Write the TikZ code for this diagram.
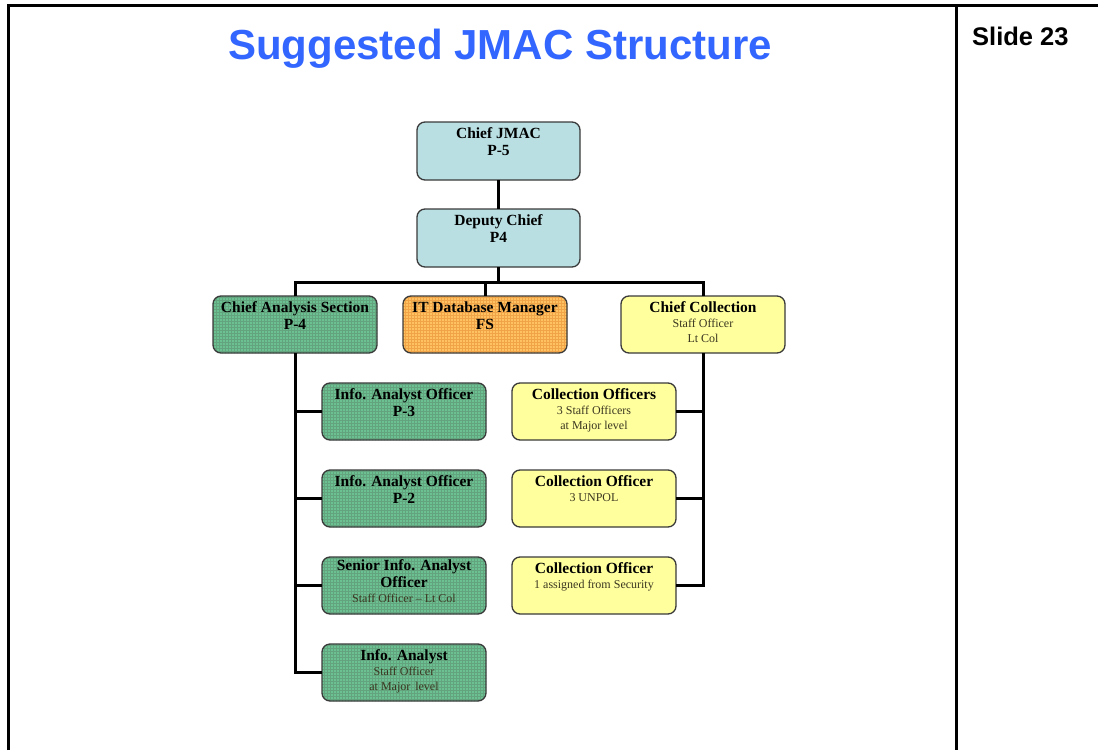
\documentclass[tikz,border=0pt]{standalone}
\usepackage{fontspec}
\setmainfont{Liberation Serif}
\newfontfamily\headfont{Liberation Sans}
\usetikzlibrary{patterns}
\definecolor{titleblue}{HTML}{3366FF}
\definecolor{chiefblue}{HTML}{B9DFE2}
\definecolor{anagreen}{HTML}{6BC192}
\definecolor{anagrid}{HTML}{2F8452}
\definecolor{itorange}{HTML}{FFC263}
\definecolor{itgrid}{HTML}{EE9326}
\definecolor{colyellow}{HTML}{FFFF9E}
\definecolor{boxedge}{HTML}{3A3A3A}
\definecolor{subtext}{HTML}{3A3620}
\newcommand{\boxtext}[2]{\parbox[c][#1pt][t]{162pt}{\centering\vspace*{6pt}#2}}
\newcommand{\mainln}[1]{{\fontsize{15.5}{17}\selectfont\bfseries #1\par}}
\newcommand{\subln}[1]{{\fontsize{12}{15}\selectfont\color{subtext}#1\par}}
\tikzset{
  x=1pt, y=-1pt,
  unitbox/.style={draw=boxedge, line width=1.3pt, rounded corners=8pt,
    minimum width=164pt, minimum height=57pt, inner sep=0pt, outer sep=0pt},
  chiefbox/.style={unitbox, fill=chiefblue, minimum width=163pt, minimum height=58pt},
  greenbox/.style={unitbox, preaction={fill=anagreen}, pattern=grid, pattern color=anagrid!75},
  orangebox/.style={unitbox, preaction={fill=itorange}, pattern=grid, pattern color=itgrid!85},
  yellowbox/.style={unitbox, fill=colyellow},
  link/.style={draw=black, line width=3pt},
  frameline/.style={draw=black, line width=3pt}
}
\begin{document}
\begin{tikzpicture}
\useasboundingbox (0,0) rectangle (1098,750);

% page frame
\draw[frameline] (8,750) -- (8,5) -- (1098,5);
\draw[frameline] (956,5) -- (956,750);

% headings
\node[anchor=base, text=titleblue, font=\headfont\bfseries\fontsize{42}{42}\selectfont, inner sep=0pt] (title) at (500,59) {Suggested JMAC Structure};
\node[anchor=base west, font=\headfont\bfseries\fontsize{25.5}{25.5}\selectfont, inner sep=0pt] (slide) at (972,45) {Slide 23};

% command level
\node[chiefbox] (cjmac) at (498.5,151) {\boxtext{58}{\mainln{Chief JMAC}\mainln{P-5}}};
\node[chiefbox] (deputy) at (498.5,238) {\boxtext{58}{\mainln{Deputy Chief}\mainln{P4}}};

% section heads
\node[greenbox] (cas) at (295,324.5) {\boxtext{57}{\mainln{Chief Analysis Section}\mainln{P-4}}};
\node[orangebox] (itdb) at (485,324.5) {\boxtext{57}{\mainln{IT Database Manager}\mainln{FS}}};
\node[yellowbox] (ccol) at (703,324.5) {\boxtext{57}{\mainln{Chief Collection}\subln{Staff Officer}\subln{Lt Col}}};

% analysis section
\node[greenbox] (ia1) at (404,411.5) {\boxtext{57}{\mainln{Info. Analyst Officer}\mainln{P-3}}};
\node[greenbox] (ia2) at (404,498.5) {\boxtext{57}{\mainln{Info. Analyst Officer}\mainln{P-2}}};
\node[greenbox] (ia3) at (404,585.5) {\boxtext{57}{\vspace*{-3pt}\mainln{Senior Info. Analyst}\mainln{Officer}\subln{Staff Officer -- Lt Col}}};
\node[greenbox] (ia4) at (404,672.5) {\boxtext{57}{\mainln{Info. Analyst}\subln{Staff Officer}\subln{at Major\, level}}};

% collection section
\node[yellowbox] (co1) at (594,411.5) {\boxtext{57}{\mainln{Collection Officers}\subln{3 Staff Officers}\subln{at Major level}}};
\node[yellowbox] (co2) at (594,498.5) {\boxtext{57}{\mainln{Collection Officer}\subln{3 UNPOL}}};
\node[yellowbox] (co3) at (594,585.5) {\boxtext{57}{\mainln{Collection Officer}\subln{1 assigned from Security}}};

% reporting lines
\coordinate (bus) at (498.5,282);
\draw[link] (cjmac.south) -- (deputy.north);
\draw[link] (deputy.south) -- (deputy.south |- bus);
\draw[link] (cas.north) -- (cas.north |- bus) -- (ccol.north |- bus) -- (ccol.north);
\draw[link] (itdb.north) -- (itdb.north |- bus);

\draw[link] (cas.south) |- (ia4.west);
\draw[link] (ia1.west) -- (ia1.west -| cas.south);
\draw[link] (ia2.west) -- (ia2.west -| cas.south);
\draw[link] (ia3.west) -- (ia3.west -| cas.south);

\draw[link] (ccol.south) |- (co3.east);
\draw[link] (co1.east) -- (co1.east -| ccol.south);
\draw[link] (co2.east) -- (co2.east -| ccol.south);
\end{tikzpicture}
\end{document}
